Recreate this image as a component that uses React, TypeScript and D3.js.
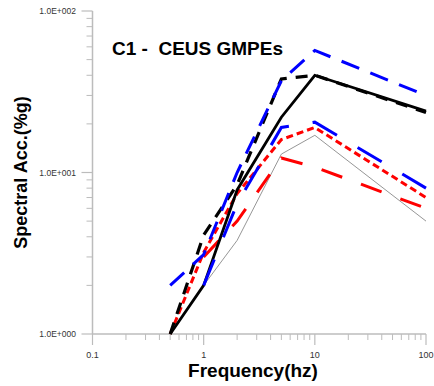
import React from "react";
import * as d3 from "d3";

const frequencies = [0.5, 1, 2, 5, 10, 100];
const blackSolid = [1, 2, 7.8, 22, 40, 24];
const blackDashed = [1, 4.1, 8.4, 38, 40, 23.5];
const blueUpper = [2, 3.1, 10, 37, 57, 30];
const blueLower = [null, 2, 6.4, 19, 20.5, 8];
const redShort = [1, 3.2, 7.4, 16, 19, 7];
const redLong = [null, 3, 5, 12.3, 10.8, 6];
const grayThin = [null, 2, 3.8, 13, 17, 5];

const xTickValues = [0.1, 1, 10, 100];
const xTickLabels = ["0.1", "1", "10", "100"];
const yTickValues = [1, 10, 100];
const yTickLabels = ["1.0E+000", "1.0E+001", "1.0E+002"];

const title = "C1 -  CEUS GMPEs";
const xTitle = "Frequency(hz)";
const yTitle = "Spectral Acc.(%g)";

const W = 434;
const H = 386;
const left = 92.5;
const right = 426;
const top = 11;
const bottom = 334;

export default function App() {
  const x = d3.scaleLog().domain([0.1, 100]).range([left, right]);
  const y = d3.scaleLog().domain([1, 100]).range([bottom, top]);

  const line = d3
    .line<[number, number | null]>()
    .defined((d) => d[1] != null)
    .x((d) => x(d[0]))
    .y((d) => y(d[1] as number));

  const mk = (vals: (number | null)[]) =>
    line(frequencies.map((f, i) => [f, vals[i]] as [number, number | null])) || "";

  const series = [
    { vals: grayThin, stroke: "#8a8a8a", w: 0.9, dash: undefined },
    { vals: redLong, stroke: "#ff0000", w: 3, dash: "22,20" },
    { vals: redShort, stroke: "#ff0000", w: 3, dash: "7,4" },
    { vals: blackSolid, stroke: "#000000", w: 2.8, dash: undefined },
    { vals: blackDashed, stroke: "#000000", w: 3.2, dash: "12,9" },
    { vals: blueLower, stroke: "#0000ff", w: 3, dash: "28,24" },
    { vals: blueUpper, stroke: "#0000ff", w: 3, dash: "19,12" },
  ];

  const xMinor: number[] = [];
  for (let d = 0.1; d < 100; d *= 10) {
    for (let k = 2; k <= 9; k++) xMinor.push(+(d * k).toPrecision(3));
  }
  const yMinor: number[] = [];
  for (let d = 1; d < 100; d *= 10) {
    for (let k = 2; k <= 9; k++) yMinor.push(d * k);
  }

  const axisColor = "#bcbcbc";

  return (
    <svg
      width={W}
      height={H}
      style={{ position: "absolute", left: 0, top: 0, background: "#fff" }}
      fontFamily="Liberation Sans, Arial, sans-serif"
    >
      <rect x={0} y={0} width={W} height={H} fill="#fff" />
      <line x1={left} x2={left} y1={top} y2={bottom} stroke={axisColor} strokeWidth={1.5} />
      <line x1={left} x2={right} y1={bottom} y2={bottom} stroke={axisColor} strokeWidth={1.5} />
      {xMinor.map((v, i) => (
        <line key={"xm" + i} x1={x(v)} x2={x(v)} y1={bottom} y2={bottom + 6} stroke={axisColor} strokeWidth={1} />
      ))}
      {xTickValues.map((v, i) => (
        <g key={"xt" + i}>
          <line x1={x(v)} x2={x(v)} y1={bottom} y2={bottom + 11} stroke={axisColor} strokeWidth={1.2} />
          <text x={x(v)} y={358} textAnchor="middle" fontSize={9} fill="#333">
            {xTickLabels[i]}
          </text>
        </g>
      ))}
      {yMinor.map((v, i) => (
        <line key={"ym" + i} x1={left - 6} x2={left} y1={y(v)} y2={y(v)} stroke={axisColor} strokeWidth={1} />
      ))}
      {yTickValues.map((v, i) => (
        <g key={"yt" + i}>
          <line x1={left - 11} x2={left} y1={y(v)} y2={y(v)} stroke={axisColor} strokeWidth={1.2} />
          <text x={76} y={y(v) + 3} textAnchor="end" fontSize={8.5} fill="#333">
            {yTickLabels[i]}
          </text>
        </g>
      ))}
      {series.map((s, i) => (
        <path
          key={"s" + i}
          d={mk(s.vals)}
          fill="none"
          stroke={s.stroke}
          strokeWidth={s.w}
          strokeDasharray={s.dash}
          strokeLinejoin="miter"
        />
      ))}
      <text x={112} y={55} fontSize={19} fontWeight="bold" fill="#000" style={{ whiteSpace: "pre" }}>
        {title}
      </text>
      <text x={253} y={377} textAnchor="middle" fontSize={19} fontWeight="bold" fill="#000">
        {xTitle}
      </text>
      <text
        transform={`translate(27,${(top + bottom) / 2}) rotate(-90)`}
        textAnchor="middle"
        fontSize={18}
        fontWeight="bold"
        fill="#000"
      >
        {yTitle}
      </text>
    </svg>
  );
}
